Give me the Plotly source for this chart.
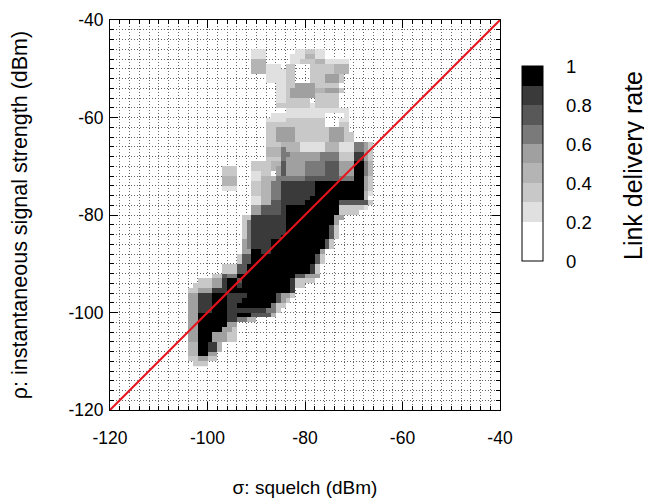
import plotly.graph_objects as go

# ---------------- data ----------------
# squelch sigma (x) columns: lower cell edges -105 .. -66 (1 dBm bins)
sigma_cols = list(range(-105, -65))
# link delivery rate levels per row (level L means rate in [L/10, (L+1)/10))
# each row: (rho lower edge, [(first col idx, last col idx, level), ...])
level_rows = [
    (-47, [(14, 16, 2), (23, 28, 2), (25, 26, 3)]),
    (-48, [(14, 16, 2), (22, 28, 2), (25, 26, 4)]),
    (-49, [(14, 16, 4), (22, 33, 2), (24, 26, 3), (27, 28, 4)]),
    (-50, [(14, 16, 4), (17, 19, 2), (21, 22, 3), (26, 33, 3), (31, 33, 4)]),
    (-51, [(14, 16, 4), (17, 20, 2), (21, 22, 3), (26, 33, 3), (31, 33, 4)]),
    (-52, [(17, 20, 2), (21, 22, 3), (26, 32, 3), (29, 31, 5)]),
    (-53, [(17, 20, 2), (21, 22, 3), (26, 32, 3), (29, 31, 5)]),
    (-54, [(19, 20, 2), (21, 31, 3), (23, 26, 5)]),
    (-55, [(19, 20, 2), (21, 32, 3), (22, 26, 5), (27, 28, 4), (29, 31, 5)]),
    (-56, [(19, 20, 2), (21, 31, 3), (22, 26, 5)]),
    (-57, [(19, 20, 2), (21, 25, 3), (27, 31, 3)]),
    (-58, [(19, 31, 3), (26, 26, 2)]),
    (-59, [(21, 33, 2)]),
    (-60, [(18, 28, 2), (33, 33, 2)]),
    (-61, [(17, 20, 2), (21, 28, 3), (32, 33, 2)]),
    (-62, [(17, 28, 3), (32, 33, 3)]),
    (-63, [(17, 18, 3), (19, 22, 5), (23, 29, 3), (30, 32, 5), (33, 33, 3)]),
    (-64, [(17, 18, 3), (19, 22, 5), (23, 29, 3), (30, 32, 5), (33, 34, 3)]),
    (-65, [(17, 18, 3), (19, 22, 5), (23, 29, 3), (30, 32, 5), (33, 34, 3)]),
    (-66, [(17, 19, 3), (20, 23, 4), (24, 28, 2), (29, 31, 4), (32, 34, 2), (35, 36, 6), (37, 37, 5), (38, 38, 3)]),
    (-67, [(17, 19, 4), (20, 20, 6), (21, 23, 4), (24, 28, 2), (29, 31, 4), (32, 34, 2), (35, 36, 6), (37, 37, 5), (38, 38, 3)]),
    (-68, [(17, 19, 4), (20, 21, 6), (22, 27, 5), (28, 31, 6), (32, 34, 3), (35, 36, 8), (37, 37, 5), (38, 38, 3)]),
    (-69, [(17, 19, 3), (20, 20, 6), (21, 27, 5), (28, 31, 6), (32, 34, 3), (35, 36, 8), (37, 37, 5), (38, 38, 3)]),
    (-70, [(14, 17, 3), (18, 19, 4), (20, 20, 7), (21, 24, 5), (25, 28, 6), (29, 31, 7), (32, 34, 5), (35, 36, 9), (37, 37, 6), (38, 38, 4)]),
    (-71, [(8, 10, 3), (14, 17, 3), (18, 18, 4), (19, 19, 5), (20, 20, 7), (21, 24, 5), (25, 28, 6), (29, 31, 7), (32, 34, 5), (35, 36, 9), (37, 37, 6), (38, 38, 4)]),
    (-72, [(8, 10, 3), (14, 15, 2), (16, 17, 3), (19, 19, 5), (20, 20, 7), (21, 24, 5), (25, 28, 6), (29, 31, 7), (32, 34, 5), (35, 36, 9), (37, 37, 6), (38, 38, 4)]),
    (-73, [(8, 10, 4), (14, 15, 2), (16, 18, 4), (19, 20, 6), (21, 24, 6), (25, 31, 7), (32, 34, 6), (35, 36, 9), (37, 37, 5), (38, 38, 3)]),
    (-74, [(8, 10, 4), (14, 15, 3), (16, 17, 4), (18, 19, 6), (20, 26, 8), (27, 36, 9), (37, 37, 5), (38, 38, 3)]),
    (-75, [(8, 10, 2), (14, 15, 3), (16, 17, 4), (18, 19, 6), (20, 26, 8), (27, 36, 9), (37, 37, 5), (38, 38, 3)]),
    (-76, [(14, 15, 3), (16, 17, 4), (18, 19, 6), (20, 26, 8), (27, 36, 9), (37, 37, 4), (38, 38, 2)]),
    (-77, [(14, 15, 2), (16, 17, 4), (18, 19, 6), (20, 25, 8), (26, 36, 9), (37, 37, 4)]),
    (-78, [(14, 15, 2), (16, 17, 4), (18, 19, 7), (20, 24, 8), (25, 31, 9), (32, 37, 7), (38, 38, 3)]),
    (-79, [(14, 15, 5), (16, 19, 7), (20, 20, 8), (21, 31, 9), (32, 36, 3), (37, 37, 2)]),
    (-80, [(14, 15, 5), (16, 19, 7), (20, 20, 8), (21, 31, 9), (32, 35, 3)]),
    (-81, [(12, 13, 3), (14, 20, 8), (21, 30, 9), (31, 32, 5)]),
    (-82, [(12, 12, 3), (13, 13, 6), (14, 20, 8), (21, 30, 9), (31, 31, 5)]),
    (-83, [(12, 12, 3), (13, 13, 6), (14, 20, 8), (21, 29, 9), (30, 30, 7), (31, 31, 3)]),
    (-84, [(12, 12, 3), (13, 13, 6), (14, 20, 8), (21, 29, 9), (30, 30, 7), (31, 31, 3)]),
    (-85, [(12, 12, 3), (13, 13, 6), (14, 19, 8), (20, 29, 9), (30, 30, 7), (31, 31, 3)]),
    (-86, [(12, 12, 5), (13, 13, 6), (14, 17, 8), (18, 28, 9), (29, 29, 7), (30, 30, 3)]),
    (-87, [(12, 12, 5), (13, 13, 6), (14, 17, 8), (18, 28, 9), (29, 29, 7), (30, 30, 3)]),
    (-88, [(12, 13, 5), (14, 15, 9), (16, 17, 8), (18, 27, 9), (28, 28, 5)]),
    (-89, [(11, 11, 3), (12, 13, 7), (14, 26, 9), (27, 27, 7), (28, 28, 3)]),
    (-90, [(11, 11, 3), (12, 13, 7), (14, 26, 9), (27, 27, 7), (28, 28, 3)]),
    (-91, [(8, 10, 3), (11, 12, 7), (13, 25, 9), (26, 26, 8), (27, 27, 3)]),
    (-92, [(8, 10, 3), (11, 12, 7), (13, 25, 9), (26, 26, 8), (27, 27, 3)]),
    (-93, [(6, 7, 3), (8, 8, 7), (9, 10, 6), (11, 22, 9), (23, 24, 7), (25, 27, 5)]),
    (-94, [(3, 5, 3), (6, 7, 5), (8, 8, 8), (9, 10, 9), (11, 11, 7), (12, 21, 9), (22, 22, 8), (23, 26, 3)]),
    (-95, [(2, 5, 3), (6, 7, 5), (8, 8, 8), (9, 10, 9), (11, 11, 8), (12, 21, 9), (22, 22, 8), (23, 24, 3)]),
    (-96, [(1, 2, 3), (3, 5, 5), (6, 8, 8), (9, 21, 9), (22, 22, 8)]),
    (-97, [(1, 2, 5), (3, 5, 8), (6, 8, 9), (9, 12, 8), (13, 18, 9), (19, 19, 7), (20, 21, 5), (22, 22, 3)]),
    (-98, [(1, 2, 5), (3, 5, 8), (6, 8, 9), (9, 11, 8), (12, 18, 9), (19, 19, 7), (20, 20, 5), (21, 21, 3)]),
    (-99, [(1, 2, 5), (3, 5, 8), (6, 8, 9), (9, 10, 8), (11, 17, 9), (18, 18, 6), (19, 20, 3)]),
    (-100, [(1, 2, 5), (3, 5, 8), (6, 8, 9), (9, 16, 8), (17, 18, 6), (19, 19, 3)]),
    (-101, [(1, 2, 5), (3, 8, 9), (9, 10, 8), (11, 13, 9), (14, 17, 7), (18, 18, 4)]),
    (-102, [(1, 2, 5), (3, 8, 9), (9, 10, 8), (11, 12, 6), (13, 14, 4)]),
    (-103, [(1, 2, 5), (3, 8, 9), (9, 10, 5)]),
    (-104, [(1, 2, 5), (3, 7, 9), (8, 9, 5), (10, 10, 3)]),
    (-105, [(1, 2, 5), (3, 5, 9), (6, 8, 5), (9, 10, 3)]),
    (-106, [(1, 2, 5), (3, 5, 9), (6, 8, 5), (9, 10, 3)]),
    (-107, [(1, 2, 4), (3, 4, 9), (5, 6, 8), (7, 7, 4)]),
    (-108, [(1, 2, 4), (3, 4, 9), (5, 6, 8), (7, 7, 4)]),
    (-109, [(1, 2, 4), (3, 4, 9), (5, 6, 5)]),
    (-110, [(1, 2, 3), (3, 4, 5), (5, 6, 3)]),
    (-111, [(2, 4, 3)]),
]
# grey shades of the 10 colour bands (0-0.1 ... 0.9-1.0)
band_colors = ["#ffffff", "#ffffff", "#e0e0e0", "#c8c8c8", "#b4b4b4",
               "#a0a0a0", "#7a7a7a", "#585858", "#3a3a3a", "#000000"]
band_edges = [0, 0.1, 0.2, 0.3, 0.4, 0.5, 0.6, 0.7, 0.8, 0.9, 1.0]
cbar_label_vals = [0, 0.2, 0.4, 0.6, 0.8, 1.0]
cbar_labels = ["0", "0.2", "0.4", "0.6", "0.8", "1"]
axis_ticks = [-120, -100, -80, -60, -40]
axis_tick_text = ["-120", "-100", "-80", "-60", "-40"]
diag = [-120, -40]

# ---------------- build grid ----------------
rho_rows = [r for r, _ in level_rows]
z = []
for r, segs in level_rows:
    row = [None] * len(sigma_cols)
    for a, b, lev in segs:
        for i in range(a, b + 1):
            row[i] = lev / 10 + 0.05
    z.append(row)

xc = [s + 0.5 for s in sigma_cols]
yc = [r + 0.5 for r in rho_rows]

colorscale = []
for k, c in enumerate(band_colors):
    colorscale.append([band_edges[k], c])
    colorscale.append([band_edges[k + 1], c])

FAM = "Liberation Sans, Arial, sans-serif"
def F(size):
    return dict(family=FAM, size=size, color="black")

# page body has an 8px offset; plot area sits at window x 110..500, y 20..410
PW = 390.0
cb_left, cb_right = (522 - 110) / PW, (543 - 110) / PW
cb_bottom, cb_len = (410 - 261) / PW, 195 / PW

fig = go.Figure()
fig.add_trace(go.Heatmap(
    x=xc, y=yc, z=z, zmin=0, zmax=1, colorscale=colorscale,
    hoverongaps=False,
    colorbar=dict(
        x=cb_left, xanchor="left", xpad=0, ypad=0,
        y=cb_bottom + cb_len / 2, yanchor="middle",
        len=cb_len, lenmode="fraction", thickness=21, thicknessmode="pixels",
        outlinewidth=1, outlinecolor="black",
        ticks="", showticklabels=False,
    ),
))
fig.add_trace(go.Scatter(
    x=diag, y=diag, mode="lines",
    line=dict(color="#e8141c", width=2), showlegend=False, hoverinfo="skip",
))

# small dashes on both edges of the colour bar at each band boundary
dash_w = 5 / PW
for t in band_edges[1:-1]:
    yy = cb_bottom + t * cb_len
    for x0, x1 in ((cb_left, cb_left + dash_w), (cb_right - dash_w, cb_right)):
        fig.add_shape(type="line", xref="paper", yref="paper", x0=x0, x1=x1,
                      y0=yy, y1=yy, line=dict(color="black", width=1))

# colour bar labels
for v, s in zip(cbar_label_vals, cbar_labels):
    fig.add_annotation(text=s, xref="paper", yref="paper",
                       x=(564 - 110) / PW, y=cb_bottom + v * cb_len,
                       xanchor="left", yanchor="middle", showarrow=False,
                       font=F(18.5))

fig.add_annotation(
    text="Link delivery rate", xref="paper", yref="paper",
    x=(633 - 110) / PW, y=(410 - 166) / PW, textangle=-90,
    showarrow=False, font=F(25), xanchor="center", yanchor="middle",
)

grid_style = dict(gridcolor="#666666", griddash="1px,2px", gridwidth=1)
axis_common = dict(
    range=[-120, -40], tickvals=axis_ticks, ticktext=axis_tick_text,
    ticks="inside", ticklen=8,
    tickcolor="black", tickwidth=1, showline=True, linecolor="black",
    linewidth=1, mirror="ticks", showgrid=True, zeroline=False,
    tickfont=F(17.5),
    minor=dict(dtick=2, tick0=-120, ticks="inside", ticklen=4, tickcolor="black",
               showgrid=True, **grid_style),
    **grid_style,
)
fig.update_xaxes(**axis_common, ticklabelstandoff=12,
                 title=dict(text="σ: squelch (dBm)", font=F(19), standoff=33))
fig.update_yaxes(**axis_common, ticklabelstandoff=2,
                 title=dict(text="ρ: instantaneous signal strength (dBm)", font=F(21.5), standoff=42))

fig.update_layout(
    width=652, height=499,
    margin=dict(l=102, r=160, t=12, b=97, autoexpand=False),
    plot_bgcolor="white", paper_bgcolor="white",
    font=F(17), showlegend=False,
)
fig.write_html("out.html")
